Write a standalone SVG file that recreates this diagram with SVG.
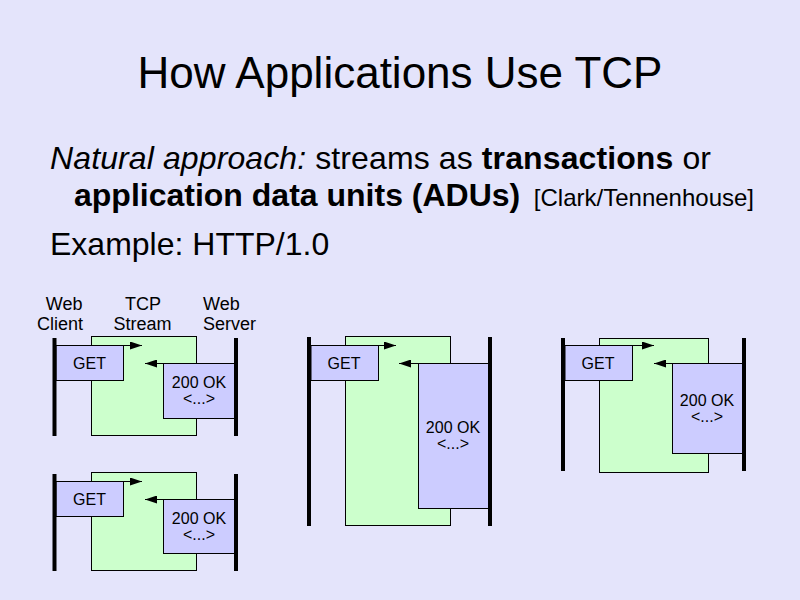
<svg xmlns="http://www.w3.org/2000/svg" width="800" height="600" viewBox="0 0 800 600">
  <defs>
    <marker id="head" viewBox="0 0 12 8" refX="12" refY="4" markerWidth="12" markerHeight="8" markerUnits="userSpaceOnUse" orient="auto">
      <path d="M0,0 L12,4 L0,8 Z" fill="#000"/>
    </marker>
    <style>
      text { font-family: "Liberation Sans", Arial, sans-serif; fill: #000; }
      .title { font-size: 44px; }
      .body { font-size: 32px; }
      .ref { font-size: 24px; }
      .col { font-size: 18px; }
      .lbl { font-size: 16px; }
      .stream { fill: #ccffcc; stroke: #000; stroke-width: 1; }
      .msg { fill: #ccccff; stroke: #000; stroke-width: 1; }
      .bar { fill: #000; }
      .flow { stroke: #000; stroke-width: 1; fill: none; marker-end: url(#head); }
    </style>
  </defs>

  <rect width="800" height="600" fill="#e4e4fb"/>

  <!-- heading and bullet text -->
  <text class="title" x="400" y="88" text-anchor="middle">How Applications Use TCP</text>
  <text class="body" x="50" y="169" textLength="661" lengthAdjust="spacing"><tspan font-style="italic">Natural approach:</tspan> streams as <tspan font-weight="bold">transactions</tspan> or</text>
  <text class="body" x="74" y="206"><tspan font-weight="bold">application data units (ADUs)</tspan></text>
  <text class="ref" x="754" y="206" text-anchor="end">[Clark/Tennenhouse]</text>
  <text class="body" x="50" y="255">Example: HTTP/1.0</text>

  <!-- column labels -->
  <g id="labels">
    <text class="col" x="82.5" y="310" text-anchor="end">Web</text>
    <text class="col" x="83" y="330" text-anchor="end">Client</text>
    <text class="col" x="143" y="310" text-anchor="middle">TCP</text>
    <text class="col" x="142.5" y="330" text-anchor="middle">Stream</text>
    <text class="col" x="203" y="310">Web</text>
    <text class="col" x="203" y="330">Server</text>
  </g>

  <!-- exchange 1: top left -->
  <g id="exchange1">
    <rect class="stream" x="91.5" y="336.5" width="105" height="99"/>
    <rect class="msg" x="56" y="345.5" width="67.5" height="35"/>
    <rect class="msg" x="163.5" y="363.5" width="71" height="55"/>
    <rect class="bar" x="52.5" y="338" width="4" height="98"/>
    <rect class="bar" x="234" y="338" width="4" height="98"/>
    <text class="lbl" x="89.5" y="369" text-anchor="middle">GET</text>
    <text class="lbl" x="199" y="388" text-anchor="middle">200 OK</text>
    <text class="lbl" x="199" y="404" text-anchor="middle">&lt;...&gt;</text>
  </g>

  <!-- exchange 2: bottom left -->
  <g id="exchange2">
    <rect class="stream" x="91.5" y="472.5" width="105" height="98"/>
    <rect class="msg" x="56" y="481.5" width="67.5" height="35"/>
    <rect class="msg" x="163.5" y="499.5" width="71" height="54"/>
    <rect class="bar" x="52.5" y="474" width="4" height="97"/>
    <rect class="bar" x="234" y="474" width="4" height="97"/>
    <text class="lbl" x="89.5" y="505" text-anchor="middle">GET</text>
    <text class="lbl" x="199" y="524" text-anchor="middle">200 OK</text>
    <text class="lbl" x="199" y="540" text-anchor="middle">&lt;...&gt;</text>
  </g>

  <!-- exchange 3: middle, long response -->
  <g id="exchange3">
    <rect class="stream" x="345.5" y="336.5" width="105" height="189"/>
    <rect class="msg" x="311" y="345.5" width="67.5" height="35"/>
    <rect class="msg" x="418.5" y="363.5" width="70" height="145"/>
    <rect class="bar" x="307" y="337" width="4" height="189"/>
    <rect class="bar" x="488" y="337" width="4" height="189"/>
    <text class="lbl" x="344" y="369" text-anchor="middle">GET</text>
    <text class="lbl" x="453" y="433" text-anchor="middle">200 OK</text>
    <text class="lbl" x="453" y="449" text-anchor="middle">&lt;...&gt;</text>
  </g>

  <!-- exchange 4: right -->
  <g id="exchange4">
    <rect class="stream" x="599.5" y="338.5" width="109" height="134"/>
    <rect class="msg" x="565" y="345.5" width="67.5" height="35"/>
    <rect class="msg" x="672.5" y="363.5" width="70" height="90"/>
    <rect class="bar" x="561" y="338" width="4" height="133"/>
    <rect class="bar" x="742" y="338" width="4" height="133"/>
    <text class="lbl" x="598" y="369" text-anchor="middle">GET</text>
    <text class="lbl" x="707" y="406" text-anchor="middle">200 OK</text>
    <text class="lbl" x="707" y="422" text-anchor="middle">&lt;...&gt;</text>
  </g>

  <!-- request and response flows -->
  <g id="connectors">
    <line class="flow" x1="56" y1="345.5" x2="142" y2="345.5"/>
    <line class="flow" x1="234" y1="363.5" x2="145" y2="363.5"/>
    <line class="flow" x1="56" y1="481.5" x2="142" y2="481.5"/>
    <line class="flow" x1="234" y1="499.5" x2="145" y2="499.5"/>
    <line class="flow" x1="311" y1="345.5" x2="396" y2="345.5"/>
    <line class="flow" x1="488" y1="363.5" x2="399" y2="363.5"/>
    <line class="flow" x1="565" y1="345.5" x2="654" y2="345.5"/>
    <line class="flow" x1="742" y1="363.5" x2="654" y2="363.5"/>
  </g>
</svg>
